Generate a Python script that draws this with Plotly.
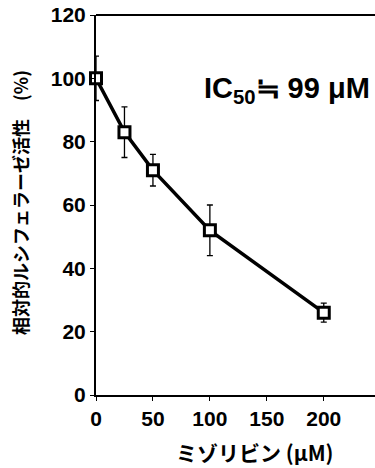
import plotly.graph_objects as go

conc = [0, 25, 50, 100, 200]
activity = [100, 83, 71, 52, 26]
err = [7, 8, 5, 8, 3]
x_ticks = [0, 50, 100, 150, 200]
y_ticks = [0, 20, 40, 60, 80, 100, 120]

L, T, B, W, H = 96, 15, 73, 375, 468
pw, ph = W - L, H - T - B

fig = go.Figure()
fig.add_trace(go.Scatter(
    x=conc, y=activity, mode="lines+markers",
    line=dict(color="black", width=3.5),
    marker=dict(symbol="square", size=11, color="white", line=dict(color="black", width=3)),
    error_y=dict(type="data", array=err, color="black", thickness=1.3, width=3),
    cliponaxis=False, showlegend=False,
))
fig.add_annotation(
    x=(372 - L) / pw, y=(H - B - 90) / ph, xref="paper", yref="paper",
    xanchor="right", yanchor="middle",
    text="<b>IC<sub>50</sub>≒ 99 μM</b>", showarrow=False,
    font=dict(family="Liberation Sans, Arial", size=29, color="black"),
)
fig.add_annotation(
    x=(255 - L) / pw, y=(H - B - 452) / ph, xref="paper", yref="paper",
    xanchor="center", yanchor="middle",
    text="<b>ミゾリビン (μM)</b>", showarrow=False,
    font=dict(family="Noto Sans CJK JP", size=21, color="black"),
)
fig.add_annotation(
    x=(20 - L) / pw, y=(H - B - 203) / ph, xref="paper", yref="paper",
    xanchor="center", yanchor="middle", textangle=-90,
    text="<b>相対的ルシフェラーゼ活性　(%)</b>", showarrow=False,
    font=dict(family="Noto Sans CJK JP", size=18, color="black"),
)
fig.update_layout(
    width=W, height=H,
    margin=dict(l=L, r=0, t=T, b=B),
    paper_bgcolor="white", plot_bgcolor="white",
    font=dict(family="Liberation Sans, Arial", color="black"),
    xaxis=dict(range=[0, 245], tickvals=x_ticks, ticktext=[f"<b>{v}</b>" for v in x_ticks],
               showline=True, linecolor="black", linewidth=2,
               ticks="outside", ticklen=4, tickcolor="black", showgrid=False, zeroline=False,
               tickfont=dict(size=21)),
    yaxis=dict(range=[0, 120], tickvals=y_ticks, ticktext=[f"<b>{v}</b>" for v in y_ticks],
               showline=True, linecolor="black", linewidth=2,
               ticks="outside", ticklen=4, tickcolor="black", showgrid=False, zeroline=False,
               tickfont=dict(size=21)),
)
fig.add_shape(type="line", xref="paper", yref="paper", x0=0, x1=1, y0=1, y1=1,
              line=dict(color="black", width=2))
fig.write_html("out.html")
